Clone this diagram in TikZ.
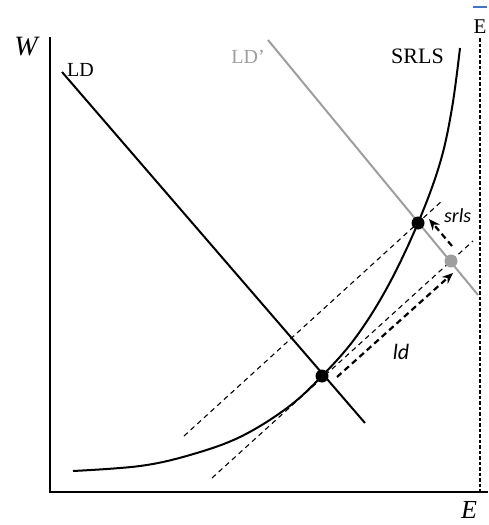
\documentclass[tikz,border=0pt]{standalone}
\usepackage{fontspec}
\setmainfont{Liberation Serif}
\newfontfamily\carl{Carlito}
\usetikzlibrary{arrows.meta,calc}
\definecolor{ldgray}{RGB}{158,158,158}
\definecolor{barblue}{RGB}{68,114,196}
\begin{document}
\begin{tikzpicture}[x=1pt,y=-1pt,
  curveline/.style={line width=2pt},
  thindash/.style={line width=1.1pt, dash pattern=on 5pt off 4pt},
  arrowdash/.style={line width=2.2pt, dash pattern=on 6pt off 4pt, -{Stealth[length=11pt,width=9pt]}},
  vdash/.style={line width=1.1pt, dash pattern=on 3.5pt off 2pt},
  dot/.style={circle, fill=black, inner sep=0pt, minimum size=13pt},
  lab/.style={inner sep=0pt, font=\fontsize{20}{24}\selectfont}]
\useasboundingbox (0,0) rectangle (488,525);

% axes
\coordinate (ytop) at (50,37);
\coordinate (O) at (50,492);
\coordinate (xend) at (488,492);
\draw[line width=1.8pt] (ytop) -- (O) -- (xend);

% Ebar dashed
\coordinate (eb1) at (480,38);
\coordinate (eb2) at (480,492);
\draw[vdash] (eb1) -- (eb2);

% dots positions
\coordinate (Ap) at (322,376);
\coordinate (Bp) at (418,223);
\coordinate (Cp) at (451,261);

% LD
\coordinate (ld1) at (62,72);
\coordinate (ld2) at (365,423);
\draw[curveline] (ld1) -- (ld2);

% LD'
\coordinate (ldp1) at (268,40);
\coordinate (ldp2) at (478,295);
\draw[line width=2pt, ldgray] (ldp1) -- (ldp2);

% SRLS
\draw[curveline] plot[smooth, tension=0.6] coordinates {(73,471) (140,466) (190,455) (240,437) (287,408) (322,376) (356,337) (388,286) (418,223) (440,163) (452,108) (460,48)};

% dashed parallels
\coordinate (lo1) at (212,478);
\coordinate (lo2) at (473,241);
\draw[thindash] (lo1) -- (lo2);
\coordinate (up1) at (184,436);
\coordinate (up2) at (443,200);
\draw[thindash] (up1) -- (up2);

% dots
\node[dot] (A) at (Ap) {};
\node[dot] (B) at (Bp) {};
\node[dot, fill=ldgray] (C) at (Cp) {};

% arrows
\coordinate (ldarr1) at (337,377);
\coordinate (ldarr2) at (453,273);
\draw[arrowdash] (ldarr1) -- (ldarr2);
\coordinate (srarr1) at (452,246);
\coordinate (srarr2) at (429,219);
\draw[arrowdash] (srarr1) -- (srarr2);

% labels
\node[inner sep=0pt, font=\fontsize{28}{30}\selectfont\itshape] (Wl) at (26,47) {W};
\node[inner sep=0pt, font=\fontsize{26}{28}\selectfont\itshape, anchor=base] (El) at (469,518) {E};
\node[lab, anchor=west] (LDl) at (67,70) {LD};
\node[lab, anchor=east, text=ldgray] (LDpl) at (265,57) {LD’};
\node[inner sep=0pt, font=\fontsize{22}{24}\selectfont, anchor=west] (SRl) at (391,56) {SRLS};
\node[inner sep=0pt, font=\fontsize{21}{23}\selectfont, anchor=base] (Ebar) at (480,33) {E};
\coordinate (bar1) at (473,7);
\coordinate (bar2) at (487,7);
\draw[barblue, line width=1.4pt] (bar1) -- (bar2);
\node[inner sep=0pt, font=\carl\fontsize{20}{24}\selectfont\itshape, anchor=west] (srl) at (444,216) {srls};
\node[inner sep=0pt, font=\carl\fontsize{22}{24}\selectfont\itshape] (ldl) at (401,352) {ld};
\end{tikzpicture}
\end{document}
